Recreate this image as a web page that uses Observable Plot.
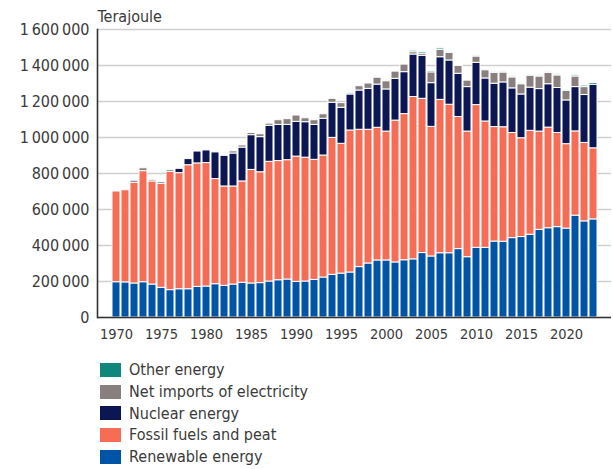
<!DOCTYPE html>
<html><head><meta charset="utf-8">
<script src="https://cdn.jsdelivr.net/npm/d3@7"></script>
<script src="https://cdn.jsdelivr.net/npm/@observablehq/plot@0.6"></script>
<style>
body{margin:0;background:#fff;font-family:"Liberation Sans Narrow","DejaVu Sans Condensed",sans-serif;color:#3a3a3a}
#legend{margin-left:100px;margin-top:14px}
.row{display:flex;align-items:center;height:21.7px;font-size:16px}
.sw{width:21px;height:14px;margin-right:8px;flex:none}
</style></head><body><div id="chart"></div><div id="legend"></div>
<script>
const years = [1970,1971,1972,1973,1974,1975,1976,1977,1978,1979,1980,1981,1982,1983,1984,1985,1986,1987,1988,1989,1990,1991,1992,1993,1994,1995,1996,1997,1998,1999,2000,2001,2002,2003,2004,2005,2006,2007,2008,2009,2010,2011,2012,2013,2014,2015,2016,2017,2018,2019,2020,2021,2022,2023];
const renewable = [196000,195000,189000,196000,183000,165000,152000,157000,157000,170000,172000,185000,176000,183000,193000,189000,191000,200000,207000,211000,198000,200000,209000,222000,237000,244000,250000,280000,300000,317000,317000,306000,318000,323000,358000,339000,357000,357000,380000,335000,387000,387000,422000,421000,441000,447000,460000,487000,496000,502000,494000,566000,534000,545000];
const fossil = [504000,512000,559000,617000,573000,578000,657000,645000,689000,686000,686000,584000,552000,545000,563000,631000,616000,665000,662000,663000,696000,688000,667000,678000,761000,721000,789000,763000,743000,737000,716000,788000,812000,902000,857000,720000,852000,825000,734000,698000,793000,702000,636000,636000,584000,549000,577000,546000,559000,523000,469000,468000,436000,395000];
const nuclear = [0,0,0,0,0,0,0,24000,34000,66000,70000,148000,170000,183000,188000,193000,195000,200000,201000,196000,193000,197000,194000,204000,195000,200000,200000,218000,227000,240000,234000,232000,233000,236000,239000,243000,237000,246000,240000,247000,235000,239000,241000,249000,248000,243000,240000,236000,241000,250000,243000,246000,266000,353000];
const netImports = [0,0,12000,16000,9000,10000,10000,0,0,0,0,0,0,12000,12000,12000,16000,12000,26000,32000,35000,22000,26000,25000,22000,26000,7000,24000,30000,38000,45000,40000,42000,13000,12000,60000,41000,42000,44000,37000,35000,46000,60000,55000,61000,57000,66000,70000,63000,70000,53000,59000,44000,0];
const other = [0,0,0,0,0,0,0,0,0,0,0,0,0,0,0,0,0,0,0,0,0,0,0,0,0,0,0,0,0,0,0,0,0,8000,8000,8000,8000,6000,5000,5000,6000,6000,6000,6000,6000,6000,6000,6000,6000,6000,6000,7000,8000,10000];
const series = ["Renewable energy","Fossil fuels and peat","Nuclear energy","Net imports of electricity","Other energy"];
const colors = ["#0054a6","#f46d54","#0b1652","#8a7f7f","#11877c"];
const yTicks = [0,200000,400000,600000,800000,1000000,1200000,1400000,1600000];
const xTicks = [1970,1975,1980,1985,1990,1995,2000,2005,2010,2015,2020];
const unitLabel = "Terajoule";

const valuesBySeries = [renewable, fossil, nuclear, netImports, other];
const data = [];
years.forEach((yr, i) => series.forEach((s, j) => data.push({year: yr, series: s, value: valuesBySeries[j][i]})));

const fmt = d => d3.format(",")(d).replace(/,/g, "\u2009");
const font = '"Liberation Sans Narrow","DejaVu Sans Condensed",sans-serif';

const chart = Plot.plot({
  width: 613, height: 345,
  marginTop: 29, marginLeft: 97, marginRight: 2, marginBottom: 28,
  style: {fontFamily: font, fontSize: "16px", color: "#3a3a3a", background: "#fff", overflow: "visible"},
  x: {type: "band", domain: years, padding: 0.16, label: null},
  y: {domain: [0, 1600000], label: null},
  color: {domain: series, range: colors},
  marks: [
    Plot.gridY(yTicks, {stroke: "#cfcfcf", strokeOpacity: 1, strokeWidth: 1.3}),
    Plot.barY(data, {x: "year", y: "value", fill: "series", order: series, stroke: "white", strokeWidth: 1}),
    Plot.axisY(yTicks, {tickSize: 0, tickPadding: 8, tickFormat: fmt, label: null, fontSize: 16}),
    Plot.axisX(xTicks, {tickSize: 0, tickPadding: 11, tickFormat: d => String(d), label: null, fontSize: 14.5}),
    Plot.ruleY([0], {stroke: "#333", strokeWidth: 1.6}),
    Plot.frame({anchor: "left", stroke: "#333", strokeWidth: 1.6}),
    Plot.text([unitLabel], {frameAnchor: "top-left", dy: -8, lineAnchor: "bottom", textAnchor: "start", fontSize: 16, fill: "#3a3a3a"})
  ]
});
document.getElementById("chart").appendChild(chart);

const legend = document.getElementById("legend");
series.map((s, j) => ({s, c: colors[j]})).reverse().forEach(({s, c}) => {
  const row = document.createElement("div");
  row.className = "row";
  const sw = document.createElement("div");
  sw.className = "sw";
  sw.style.background = c;
  const t = document.createElement("span");
  t.textContent = s;
  row.appendChild(sw); row.appendChild(t);
  legend.appendChild(row);
});
</script></body></html>
